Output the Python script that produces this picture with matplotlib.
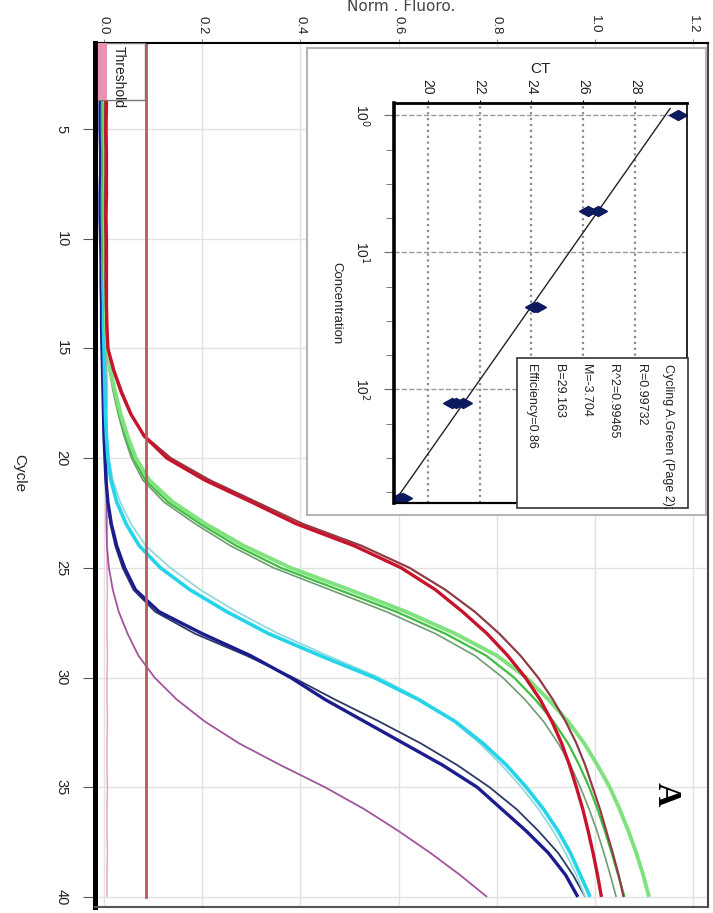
import numpy as np
import matplotlib
matplotlib.use('Agg')
import matplotlib.pyplot as plt
from matplotlib.patches import Rectangle
from matplotlib.markers import MarkerStyle
from matplotlib.transforms import Affine2D
from matplotlib.ticker import NullFormatter

plt.rcParams['font.family'] = ['Liberation Sans Narrow', 'Liberation Sans', 'DejaVu Sans']

W, H = 713, 913

cycles = np.arange(1, 41)

# normalised fluorescence per cycle for each sample
red = [0.004, 0.004, 0.005, 0.005, 0.004, 0.005, 0.005, 0.005, 0.004, 0.005,
       0.005, 0.005, 0.005, 0.006, 0.008, 0.020, 0.036, 0.055, 0.082, 0.128,
       0.205, 0.300, 0.392, 0.510, 0.605, 0.675, 0.730, 0.780, 0.822, 0.858,
       0.888, 0.912, 0.932, 0.948, 0.962, 0.975, 0.986, 0.996, 1.005, 1.013]
brown = [0.002, 0.002, 0.003, 0.002, 0.002, 0.003, 0.003, 0.002, 0.002, 0.003,
         0.003, 0.003, 0.004, 0.005, 0.008, 0.019, 0.034, 0.054, 0.083, 0.136,
         0.215, 0.310, 0.405, 0.525, 0.622, 0.695, 0.755, 0.805, 0.848, 0.884,
         0.914, 0.940, 0.962, 0.980, 0.995, 1.010, 1.023, 1.036, 1.048, 1.058]
green_a = [0.001, 0.001, 0.002, 0.001, 0.001, 0.002, 0.002, 0.001, 0.001, 0.002,
           0.002, 0.002, 0.003, 0.004, 0.007, 0.013, 0.023, 0.034, 0.048, 0.065,
           0.092, 0.140, 0.207, 0.285, 0.380, 0.500, 0.615, 0.715, 0.800, 0.860,
           0.905, 0.945, 0.978, 1.005, 1.030, 1.050, 1.068, 1.084, 1.098, 1.110]
green_b = [-0.002, -0.002, -0.001, -0.002, -0.002, -0.001, -0.001, -0.002, -0.002, -0.001,
           -0.001, 0.000, 0.001, 0.003, 0.006, 0.012, 0.021, 0.031, 0.044, 0.060,
           0.084, 0.130, 0.196, 0.270, 0.360, 0.478, 0.595, 0.695, 0.778, 0.835,
           0.878, 0.915, 0.945, 0.968, 0.988, 1.005, 1.020, 1.034, 1.047, 1.060]
green_c = [-0.004, -0.004, -0.003, -0.004, -0.004, -0.003, -0.003, -0.004, -0.004, -0.003,
           -0.002, -0.001, 0.000, 0.002, 0.005, 0.011, 0.019, 0.029, 0.041, 0.056,
           0.079, 0.122, 0.186, 0.258, 0.345, 0.460, 0.575, 0.675, 0.755, 0.812,
           0.857, 0.895, 0.925, 0.950, 0.970, 0.988, 1.004, 1.018, 1.031, 1.043]
cyan_a = [0.001, 0.001, 0.002, 0.001, 0.001, 0.002, 0.002, 0.001, 0.001, 0.002,
          0.002, 0.001, 0.001, 0.002, 0.002, 0.003, 0.003, 0.004, 0.006, 0.010,
          0.018, 0.033, 0.055, 0.085, 0.135, 0.196, 0.270, 0.355, 0.455, 0.560,
          0.645, 0.712, 0.765, 0.810, 0.850, 0.885, 0.915, 0.940, 0.962, 0.980]
cyan_b = [-0.003, -0.003, -0.002, -0.003, -0.003, -0.002, -0.002, -0.003, -0.003, -0.002,
          -0.002, -0.002, -0.001, -0.001, 0.000, 0.001, 0.002, 0.003, 0.005, 0.008,
          0.014, 0.026, 0.045, 0.072, 0.115, 0.175, 0.250, 0.335, 0.440, 0.550,
          0.640, 0.715, 0.772, 0.820, 0.860, 0.895, 0.925, 0.950, 0.970, 0.990]
navy_a = [-0.008, -0.008, -0.007, -0.008, -0.008, -0.007, -0.007, -0.008, -0.008, -0.007,
          -0.006, -0.006, -0.005, -0.005, -0.004, -0.003, -0.002, -0.001, 0.000, 0.002,
          0.004, 0.008, 0.015, 0.026, 0.042, 0.064, 0.112, 0.200, 0.298, 0.380,
          0.450, 0.530, 0.610, 0.690, 0.760, 0.810, 0.860, 0.905, 0.940, 0.965]
navy_b = [-0.006, -0.006, -0.005, -0.006, -0.006, -0.005, -0.005, -0.006, -0.006, -0.005,
          -0.004, -0.004, -0.004, -0.003, -0.003, -0.002, -0.001, 0.000, 0.001, 0.003,
          0.005, 0.007, 0.013, 0.023, 0.038, 0.060, 0.104, 0.185, 0.290, 0.385,
          0.470, 0.560, 0.645, 0.720, 0.785, 0.840, 0.885, 0.925, 0.955, 0.980]
purple = [-0.001, -0.001, 0.000, -0.001, -0.001, 0.000, 0.000, -0.001, -0.001, 0.000,
          0.001, 0.001, 0.002, 0.002, 0.003, 0.003, 0.004, 0.004, 0.005, 0.004,
          0.005, 0.005, 0.005, 0.006, 0.010, 0.018, 0.030, 0.048, 0.070, 0.103,
          0.148, 0.205, 0.275, 0.360, 0.450, 0.530, 0.600, 0.665, 0.725, 0.780]
ntc = [0.006, 0.007, 0.006, 0.006, 0.007, 0.006, 0.006, 0.007, 0.006, 0.006,
       0.007, 0.006, 0.006, 0.007, 0.006, 0.006, 0.007, 0.006, 0.006, 0.007,
       0.006, 0.006, 0.007, 0.006, 0.006, 0.007, 0.006, 0.006, 0.007, 0.006,
       0.006, 0.007, 0.006, 0.006, 0.007, 0.006, 0.006, 0.007, 0.006, 0.006]

threshold = 0.085
fluoro_ticks = [0.0, 0.2, 0.4, 0.6, 0.8, 1.0, 1.2]
cycle_ticks = [5, 10, 15, 20, 25, 30, 35, 40]

# standard curve: dilution series and their CT values
std_conc = [1, 5, 5, 25, 25, 125, 125, 125, 625, 625]
std_ct = [29.65, 26.2, 26.55, 24.1, 24.2, 20.95, 21.1, 21.35, 18.95, 19.05]
ct_ticks = [20, 22, 24, 26, 28]
conc_ticks = [1, 10, 100]
conc_labels = ['10$^{0}$', '10$^{1}$', '10$^{2}$']
slope = -3.704
intercept = 29.163
fit_text = ['Cycling A.Green (Page 2);', 'R=0.99732', 'R^2=0.99465',
            'M=-3.704', 'B=29.163', 'Efficiency=0.86']

series = [
    (ntc, '#e9a3c9', 1.1),
    (purple, '#a0559c', 1.3),
    (navy_b, '#2e3a66', 1.3),
    (navy_a, '#1c1c8f', 2.4),
    (cyan_a, '#92d9e0', 1.3),
    (cyan_b, '#25d4e8', 2.6),
    (green_c, '#6f9c70', 1.2),
    (green_b, '#3fbf3f', 1.6),
    (green_a, '#7fe27f', 2.8),
    (brown, '#8f3c45', 1.6),
    (red, '#c8132c', 2.4),
]


def fx(px):
    return px / W


def fy(py):
    return 1 - py / H


fig = plt.figure(figsize=(W / 100, H / 100), dpi=100)
fig.patch.set_facecolor('white')

# main amplification plot, cycle runs down the page
ax = fig.add_axes([fx(95), fy(907), (708 - 95) / W, (907 - 43) / H])
ax.grid(True, color='#e2e2e2', lw=1)
ax.set_axisbelow(True)
for vals, col, lw in series:
    ax.plot(vals, cycles, color=col, lw=lw, solid_capstyle='butt', solid_joinstyle='round')
ax.plot([threshold, threshold], [1, 40], color='#b85a5a', lw=2)

ax.set_xlim(-0.0183, 1.23)
ax.set_ylim(40.46, 1.08)
ax.set_xticks(fluoro_ticks)
ax.set_xticklabels([f'{t:.1f}' for t in fluoro_ticks])
ax.set_yticks(cycle_ticks)
ax.tick_params(axis='x', top=True, bottom=False, labeltop=True, labelbottom=False,
               labelrotation=-90, length=3, pad=3.5, color='#888', labelsize=9.5,
               labelcolor='#222')
ax.tick_params(axis='y', labelrotation=-90, length=9, pad=10, color='#555',
               labelsize=10.5, labelcolor='#222')
for lab in ax.get_yticklabels():
    lab.set_va('center')
ax.spines['left'].set_linewidth(3.6)
ax.spines['left'].set_color('black')
ax.spines['top'].set_linewidth(1.5)
ax.spines['right'].set_linewidth(1.5)
ax.spines['right'].set_color('#444')
ax.spines['bottom'].set_linewidth(1.5)
ax.spines['bottom'].set_color('#555')

# threshold legend entry
ax.add_patch(Rectangle((-0.012, 1.1), 0.096, 2.6, fc='white', ec='#777', lw=1, zorder=4))
ax.add_patch(Rectangle((-0.012, 1.1), 0.018, 2.6, fc='#e892b4', ec='none', zorder=5))
ax.text(0.031, 1.22, 'Threshold', rotation=-90, ha='center', va='top',
        fontsize=10, color='#222', zorder=6)

fig.text(fx(401), fy(11), 'Norm . Fluoro.', ha='center', va='baseline',
         fontsize=11, color='#444', family='DejaVu Sans')
fig.text(fx(19), fy(473), 'Cycle', rotation=-90, ha='center', va='center',
         fontsize=11, color='#222')

# standard curve panel
fig.add_artist(Rectangle((fx(307), fy(515)), (706 - 307) / W, (515 - 48) / H,
                         transform=fig.transFigure, fc='white', ec='#b5b5b5',
                         lw=1.5, zorder=1))

ax_in = fig.add_axes([fx(394), fy(503), (687 - 394) / W, (503 - 103) / H], zorder=2)
ax_in.set_yscale('log')
ax_in.set_xlim(18.7, 30)
ax_in.set_ylim(10 ** 2.83, 10 ** -0.09)
conc_line = np.logspace(-0.05, 2.83, 60)
ax_in.plot(slope * np.log10(conc_line) + intercept, conc_line, color='#222', lw=1)
diamond = MarkerStyle('d', transform=Affine2D().rotate_deg(90))
ax_in.plot(std_ct, std_conc, ls='none', marker=diamond, ms=9, color='#0c1a5e')

ax_in.set_xticks(ct_ticks)
ax_in.set_yticks(conc_ticks)
ax_in.set_yticklabels(conc_labels)
minor = [10 ** (d + q) for d in range(-1, 3) for q in (0.25, 0.5, 0.75)]
ax_in.set_yticks([m for m in minor if 0.81 < m < 676], minor=True)
ax_in.yaxis.set_minor_formatter(NullFormatter())
ax_in.grid(True, axis='x', ls=':', color='#8a8a8a', lw=1.6)
ax_in.grid(True, axis='y', which='major', ls='--', color='#9a9a9a', lw=1)
ax_in.tick_params(axis='x', top=True, bottom=False, labeltop=True, labelbottom=False,
                  labelrotation=-90, length=2, pad=4, labelsize=10, labelcolor='#222')
ax_in.tick_params(axis='y', which='major', labelrotation=-90, length=7, pad=9,
                  color='#666', labelsize=10, labelcolor='#222')
ax_in.tick_params(axis='y', which='minor', length=6, color='#666')
for lab in ax_in.get_yticklabels():
    lab.set_va('center')
ax_in.xaxis.set_label_position('top')
ax_in.set_xlabel('CT', fontsize=11, labelpad=4, color='#222')
ax_in.spines['left'].set_linewidth(2.6)
ax_in.spines['top'].set_linewidth(2)
ax_in.spines['right'].set_linewidth(1.2)
ax_in.spines['bottom'].set_linewidth(1.6)

fig.text(fx(336), fy(303), 'Concentration', rotation=-90, ha='center', va='center',
         fontsize=9.5, color='#222', zorder=3)

# fit summary box
fig.add_artist(Rectangle((fx(517), fy(508)), (688 - 517) / W, (508 - 358) / H,
                         transform=fig.transFigure, fc='white', ec='#333',
                         lw=1.2, zorder=2.5))
for i, line in enumerate(fit_text):
    fig.text(fx(668 - 27.3 * i), fy(364), line, rotation=-90, ha='center', va='top',
             fontsize=9, color='#222', zorder=3)

fig.text(fx(666), fy(794), 'A', rotation=-90, ha='center', va='center',
         fontsize=24, weight='bold', family='Liberation Serif', color='black', zorder=3)

fig.savefig('out.png', dpi=100)
